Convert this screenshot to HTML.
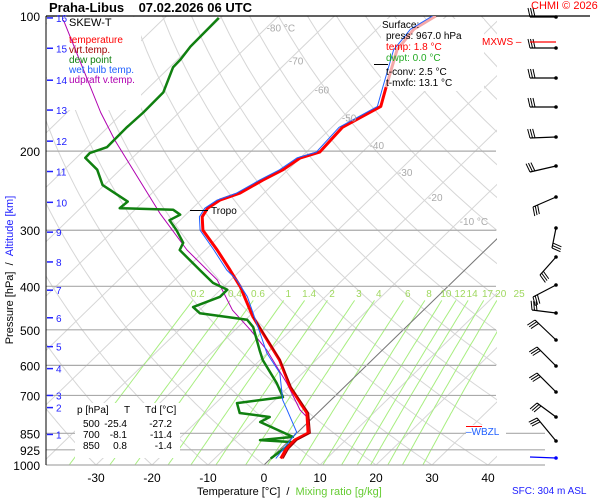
<!DOCTYPE html>
<html><head><meta charset="utf-8"><style>
html,body{margin:0;padding:0;background:#fff;overflow:hidden;width:600px;height:500px;}
svg{display:block;font-family:"Liberation Sans",sans-serif;}
.ov{position:absolute;font-family:"Liberation Sans",sans-serif;white-space:nowrap;}
</style></head><body>
<svg id="chart" width="600" height="500" viewBox="0 0 600 500">
<defs><clipPath id="plotclip"><rect x="46" y="16" width="451" height="449"/></clipPath></defs>
<g id="grid" clip-path="url(#plotclip)"></g>
<g id="isobars"></g>
<g id="boxes">
 <rect x="47" y="17" width="94" height="93" fill="#fff"/>
 <rect x="381" y="19" width="103" height="72" fill="#fff"/>
 <rect x="75" y="403" width="105" height="55" fill="#fff"/>
 <rect x="466" y="425" width="40" height="14" fill="#fff"/>
</g>
<g id="traces" clip-path="url(#plotclip)"></g>
<g id="labels"></g>
<g id="barbs"></g>
</svg>
<script>
// ---- data ----
const tempP=[967,921,880,849,766,670,584,508,468,401,368,332,300,280,268,257,248,232,220,207,201,177,159,144,119,107,100];
const tempT=[1.8,1.0,0.9,2.0,-1.9,-9.7,-16.5,-24.5,-29.2,-37.0,-41.9,-47.9,-54.1,-56.7,-57.3,-56.6,-54.3,-52.6,-50.9,-50.0,-47.6,-48.1,-45.1,-47.7,-52.6,-53.4,-51.9];
const vtP=[967,921,880,849,766,670,584,508,468];
const vtT=[2.2,1.4,1.3,2.4,-1.6,-9.5,-16.4,-24.4,-29.1];
const wbP=[967,845,754,717,624,563,508,422,387,368,332,300,280,268,257,248,232,220,207,201,177,159,144,119,107,100];
const wbT=[0.9,-0.2,-6.0,-8.6,-14.1,-20.1,-25.0,-33.9,-38.9,-42.5,-48.5,-54.6,-57.2,-57.8,-57.1,-54.9,-53.2,-51.5,-50.6,-48.2,-48.7,-45.7,-48.3,-53.2,-54.0,-52.5];
const dewP=[967,889,880,866,802,782,766,728,706,657,584,555,493,475,459,445,422,407,393,368,332,320,300,285,277,270,268,259,238,220,207,202,196,177,164,148,130,125,117,101];
const dewT=[0.0,0.9,-5.3,0.0,-8.6,-7.8,-13.9,-16.2,-9.1,-12.8,-19.5,-21.9,-27.3,-29.7,-39.4,-41.7,-38.8,-38.8,-42.6,-47.3,-54.6,-55.3,-58.8,-61.9,-61.0,-63.2,-73.0,-72.8,-80.3,-84.1,-88.4,-88.5,-86.5,-86.6,-86.4,-86.5,-89.4,-89.5,-90.1,-90.3];
const updP=[794,754,657,605,555,500,452,387,332,275,189,164,102];
const updT=[-0.1,-3.7,-11.0,-15.7,-20.6,-27.3,-34.1,-42.4,-53.3,-64.9,-86.4,-94.0,-117.7];
const pressTicks=[100,200,300,400,500,600,700,850,925,1000];
const tempTicks=[-30,-20,-10,0,10,20,30,40];
const isoLabels=[-80,-70,-60,-50,-40,-30,-20,-10];
const mixRatios=[0.2,0.4,0.6,1,1.4,2,3,4,6,8,10,12,14,17,20,25];
const kmTicks=[1,2,3,4,5,6,7,8,9,10,11,12,13,14,15,16];
const kmPress=[855,745,700,610,545,470,408,353,303,260,222,190,162,139,118,101];
// ---- axes ----
const NS='http://www.w3.org/2000/svg';
function yP(p){return 465-195*Math.log(1000/p);}
function xT(t,p){return 264+5.6*t+1.03*(465-yP(p));}
function mk(tag,attrs,parent){const e=document.createElementNS(NS,tag);for(const k in attrs)e.setAttribute(k,attrs[k]);parent.appendChild(e);return e;}
const grid=document.getElementById('grid'),iso=document.getElementById('isobars'),tr=document.getElementById('traces'),lab=document.getElementById('labels');
function pathFrom(P,T){let d='';for(let i=0;i<P.length;i++){d+=(i?'L':'M')+xT(T[i],P[i]).toFixed(1)+','+yP(P[i]).toFixed(1);}return d;}
for(let t=-160;t<=50;t+=10){
 const l=mk('line',{x1:xT(t,1000),y1:yP(1000),x2:xT(t,100),y2:yP(100),stroke:'#d6d6d6','stroke-width':1},grid);
 
 
}
for(let th=-40;th<=220;th+=10){
 let d='';for(let p=1000;p>=100;p-=10){const t=(th+273.15)*Math.pow(p/1000,0.286)-273.15;d+=(p==1000?'M':'L')+xT(t,p).toFixed(1)+','+yP(p).toFixed(1);}
 const a=mk('path',{d:d,fill:'none',stroke:'#d6d6d6','stroke-width':1},grid);
 
 
}
function tdFromW(w,p){const e=w*p/(622+w);const l=Math.log(e/6.112);return 243.5*l/(17.67-l);}
mixRatios.forEach(w=>{
 let d='';for(let p=1000;p>=430;p-=10){d+=(p==1000?'M':'L')+xT(tdFromW(w,p),p).toFixed(1)+','+yP(p).toFixed(1);}
 const m=mk('path',{d:d,fill:'none',stroke:'#a8ee80','stroke-width':1},grid);
 
 
 const tx=mk('text',{x:xT(tdFromW(w,416),416),y:yP(416)+3,'font-size':10,fill:'#a0d860','text-anchor':'middle'},lab);
 tx.textContent=w;
 
 
});
const z=mk('line',{x1:xT(0,1000),y1:yP(1000),x2:xT(0,250),y2:yP(250),stroke:'#777','stroke-width':1},grid);


pressTicks.forEach(p=>{
 const y=yP(p);
 const x2=p==100?590:(p>=850?545:496);
 const l=mk('line',{x1:46,y1:y,x2:x2,y2:y,stroke:p==100?'#000':'#aaa','stroke-width':1.2},iso);
 
 
 const t=mk('text',{x:40,y:y+5,'font-size':12,fill:'#000','text-anchor':'end'},lab);
 t.textContent=p;
 
 
});
const ax=mk('line',{x1:46,y1:16,x2:46,y2:465,stroke:'#000','stroke-width':1},iso);


tempTicks.forEach(t=>{
 const tx=mk('text',{x:xT(t,1000),y:482,'font-size':12,fill:'#000','text-anchor':'middle'},lab);
 tx.textContent=t;
 
 
});
isoLabels.forEach((t,i)=>{
 const p=[104,123,143,165,190,218,248,280][i];
 const tx=mk('text',{x:xT(t,p)-4,y:yP(p)+8,'font-size':10,fill:'#aaa'},lab);
 tx.textContent=t+((t==-80||t==-10)?' °C':'');
 
 
});
kmTicks.forEach((k,i)=>{
 const y=yP(kmPress[i]);
 const l=mk('line',{x1:47,y1:y,x2:53,y2:y,stroke:'#2020ff','stroke-width':1.5},lab);
 
 
 const t=mk('text',{x:56,y:y+4,'font-size':10,fill:'#2020ff'},lab);
 t.textContent=k;
 
 
});
function trace(P,T,color,w,name){const e=mk('path',{d:pathFrom(P,T),fill:'none',stroke:color,'stroke-width':w,'stroke-linejoin':'round'},tr);return e;}
trace(updP,updT,'#b000b0',1,'updraft-virtual-temperature-line');
trace(dewP,dewT,'#108010',2.5,'dew-point-line');
const split=tempP.findIndex(p=>p<140);
trace(tempP.slice(0,split),tempT.slice(0,split),'#ff0000',3,'temperature-line');
trace(tempP.slice(split-1),tempT.slice(split-1),'#f4a8a8',3,'temperature-line-upper');
trace(vtP,vtT,'#a00000',1.2,'virtual-temperature-line');
trace(wbP,wbT,'#2060ff',1,'wet-bulb-line');
const barbY=[17,48,78,107,137,166,197,228,257,285,313,340,366,392,417,441];
const barbEx=[530,530,530,530,530,530,533,552,540,533,532,535,537,537,537,537];
const barbEy=[17,48,78,107,138,172,207,248,275,297,310,320,347,373,403,418];
const bg2=document.getElementById('barbs');
barbY.forEach((y,i)=>{
 const l=mk('line',{x1:556,y1:y,x2:barbEx[i],y2:barbEy[i],stroke:'#000','stroke-width':1.2},bg2);
 
 
 mk('circle',{cx:556,cy:y,r:1.8,fill:'#000'},bg2);
 const L=Math.hypot(556-barbEx[i],y-barbEy[i]);
 const ux=(556-barbEx[i])/L,uy=(y-barbEy[i])/L;
 let px,py;
 if(Math.abs(uy)<0.35){px=uy*9;py=-ux*9;}else{px=-uy*9;py=ux*9;}
 for(let k=0;k<3;k++){
  const bx=barbEx[i]+k*2.5*ux, by=barbEy[i]+k*2.5*uy;
  mk('line',{x1:bx,y1:by,x2:bx+px-ux*2,y2:by+py-uy*2,stroke:'#000','stroke-width':1},bg2);
 }
});
const sb=mk('line',{x1:530,y1:457,x2:556,y2:458,stroke:'#0000ff','stroke-width':1.3},bg2);


mk('circle',{cx:556,cy:458,r:1.8,fill:'#0000ff'},bg2);
const mx=mk('line',{x1:530,y1:42,x2:556,y2:42,stroke:'#f00','stroke-width':1.3},bg2);


</script>
<div class="ov" style="left:49px;top:0px;font-size:13px;font-weight:bold;">Praha-Libus&nbsp;&nbsp;&nbsp;&nbsp;07.02.2026 06 UTC</div>
<div class="ov" style="left:531px;top:0px;font-size:11px;color:#f00;">CHMI © 2026</div>
<div class="ov" style="left:69px;top:18px;font-size:10px;line-height:10px;">
 <div style="font-size:11px;color:#000;margin-bottom:8px;">SKEW-T</div>
 <div style="color:#f00">temperature</div>
 <div style="color:#a00000">virt.temp.</div>
 <div style="color:#108010">dew point</div>
 <div style="color:#2060ff">wet bulb temp.</div>
 <div style="color:#b000b0">udpraft v.temp.</div>
</div>
<div class="ov" style="left:382px;top:20px;font-size:10px;line-height:11px;">
 <div>Surface:</div>
 <div style="margin-left:4px">press: 967.0 hPa</div>
 <div style="margin-left:4px;color:#f00">temp: 1.8 °C</div>
 <div style="margin-left:4px;color:#2a2">dwpt: 0.0 °C</div>
 <div style="margin-left:4px;margin-top:3px">t-conv: 2.5 °C</div>
 <div style="margin-left:4px">t-mxfc: 13.1 °C</div>
</div>
<div class="ov" style="left:77px;top:405px;width:103px;height:54px;font-size:10px;line-height:11px;">
 <span style="position:absolute;left:0;top:0">p [hPa]</span><span style="position:absolute;left:47px;top:0">T</span><span style="position:absolute;left:68px;top:0">Td [°C]</span>
 <span style="position:absolute;left:6px;top:14px">500</span><span style="position:absolute;right:53px;top:14px">-25.4</span><span style="position:absolute;right:8px;top:14px">-27.2</span>
 <span style="position:absolute;left:6px;top:25px">700</span><span style="position:absolute;right:53px;top:25px">-8.1</span><span style="position:absolute;right:8px;top:25px">-11.4</span>
 <span style="position:absolute;left:6px;top:36px">850</span><span style="position:absolute;right:53px;top:36px">0.8</span><span style="position:absolute;right:8px;top:36px">-1.4</span>
</div>
<div style="position:absolute;left:190px;top:210px;width:18px;border-top:1px solid #000;"></div>
<div class="ov" style="left:211px;top:206px;font-size:10px;">Tropo</div>
<div style="position:absolute;left:374px;top:64px;width:14px;border-top:1px solid #000;"></div>
<div class="ov" style="left:482px;top:37px;font-size:10px;color:#f00;">MXWS –</div>
<div style="position:absolute;left:466px;top:426px;width:16px;border-top:1px solid #f00"></div>
<div class="ov" style="left:466px;top:427px;font-size:10px;color:#2060ff;">–WBZL</div>
<div class="ov" style="left:512px;top:486px;font-size:10px;color:#2020ff;">SFC: 304 m ASL</div>
<div class="ov" style="left:197px;top:486px;font-size:11px;">Temperature [°C]&nbsp;&nbsp;/&nbsp;&nbsp;<span style="color:#6c3">Mixing ratio [g/kg]</span></div>
<div class="ov" style="left:-85px;top:264px;width:190px;text-align:center;transform:rotate(-90deg);font-size:11px;">Pressure [hPa]&nbsp;&nbsp;/&nbsp;&nbsp;<span style="color:#2020ff">Altitude [km]</span></div>
</body></html>
